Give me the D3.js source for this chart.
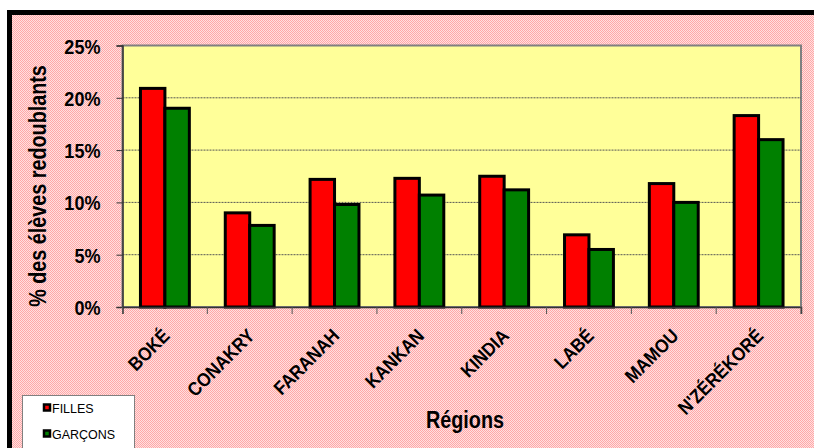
<!DOCTYPE html>
<html><head><meta charset="utf-8">
<script src="https://cdn.jsdelivr.net/npm/d3@7"></script>
<style>
html,body{margin:0;padding:0;background:#fff;overflow:hidden}
svg{display:block}
</style></head>
<body>
<svg id="chart" width="814" height="448"></svg>
<script>
const regions = ["BOKÉ","CONAKRY","FARANAH","KANKAN","KINDIA","LABÉ","MAMOU","N'ZÉRÉKORÉ"];
const filles  = [20.9, 9.0, 12.2, 12.3, 12.5, 6.9, 11.8, 18.3];
const garcons = [19.0, 7.8, 9.8, 10.7, 11.2, 5.5, 10.0, 16.0];
const seriesNames = ["FILLES","GARÇONS"];
const seriesColors = ["#ff0000","#008000"];
const yTicks = [0,5,10,15,20,25];

const FONT = "'Liberation Sans',Arial,sans-serif";
const NARROW = 0.86;
const svg = d3.select("#chart");

// pattern background
const defs = svg.append("defs");
const pat = defs.append("pattern").attr("id","pink").attr("width",2).attr("height",2).attr("patternUnits","userSpaceOnUse");
pat.append("rect").attr("width",2).attr("height",2).attr("fill","#ffe0e0");
pat.append("rect").attr("width",1).attr("height",1).attr("fill","#ffa8a8");
pat.append("rect").attr("x",1).attr("y",1).attr("width",1).attr("height",1).attr("fill","#ffa8a8");

svg.append("rect").attr("x",9.5).attr("y",12.5).attr("width",820).attr("height",450)
  .attr("fill","url(#pink)").attr("stroke","#000").attr("stroke-width",5);

const m = {left:122.5, right:801, top:45.5, bottom:307};
const x = d3.scaleBand().domain(regions).range([m.left, m.right]).paddingInner(0).paddingOuter(0);
const y = d3.scaleLinear().domain([0,25]).range([m.bottom, m.top]);

// plot area
svg.append("rect").attr("x",m.left).attr("y",m.top).attr("width",m.right-m.left).attr("height",m.bottom-m.top)
  .attr("fill","#ffff99").attr("stroke","#808080").attr("stroke-width",2);

// gridlines
svg.append("g").selectAll("line").data(yTicks.filter(t=>t>0 && t<25)).join("line")
  .attr("x1",m.left).attr("x2",m.right).attr("y1",d=>y(d)).attr("y2",d=>y(d))
  .attr("stroke","#555").attr("stroke-width",1).attr("stroke-dasharray","2,1");

// bars
const inner = d3.scaleBand().domain([0,1]).range([0, x.bandwidth()]).paddingInner(0).paddingOuter(0.735);
const data = regions.map((r,i)=>({r, vals:[filles[i], garcons[i]]}));
const groups = svg.append("g").selectAll("g").data(data).join("g")
  .attr("transform", d=>`translate(${x(d.r)},0)`);
groups.selectAll("rect").data(d=>d.vals.map((v,k)=>({v,k}))).join("rect")
  .attr("x", d=>inner(d.k)).attr("width", inner.bandwidth())
  .attr("y", d=>y(d.v)).attr("height", d=>y(0)-y(d.v))
  .attr("fill", d=>seriesColors[d.k]).attr("stroke","#000").attr("stroke-width",3);

// y axis
const yAxis = d3.axisLeft(y).tickValues(yTicks).tickFormat(d=>d+"%").tickSize(6).tickPadding(22);
const ga = svg.append("g").attr("transform",`translate(${m.left},0)`).call(yAxis);
ga.select(".domain").attr("stroke","#333").attr("stroke-width",1.5);
ga.selectAll(".tick line").attr("stroke","#333");
ga.selectAll("text").attr("font-family",FONT).attr("font-weight","bold").attr("font-size",21).attr("fill","#000")
  .attr("x",0).attr("dy","0.36em")
  .attr("transform",`translate(-22,0) scale(${NARROW},1)`);

// x axis
const xAxis = d3.axisBottom(x).tickSize(7).tickFormat("");
const gx = svg.append("g").attr("transform",`translate(0,${m.bottom})`).call(xAxis);
gx.select(".domain").attr("stroke","#333").attr("stroke-width",1.5);
gx.selectAll(".tick").attr("transform", d=>`translate(${x(d)},0)`);
gx.selectAll(".tick line").attr("stroke","#555");
gx.append("line").attr("x1",m.right).attr("x2",m.right).attr("y1",0).attr("y2",7).attr("stroke","#555");

// x labels
svg.append("g").selectAll("text").data(regions).join("text")
  .attr("transform", d=>`translate(${x(d)+x.bandwidth()/2+6},${m.bottom+30}) rotate(-45) scale(0.9,1)`)
  .attr("text-anchor","end").attr("font-family",FONT).attr("font-weight","bold").attr("font-size",19)
  .attr("fill","#000").text(d=>d);

// axis titles
svg.append("text").attr("transform",`translate(46,186) rotate(-90) scale(${NARROW},1)`).attr("text-anchor","middle")
  .attr("font-family",FONT).attr("font-weight","bold").attr("font-size",23).text("% des élèves redoublants");
svg.append("text").attr("transform",`translate(465,428) scale(${NARROW},1)`).attr("text-anchor","middle")
  .attr("font-family",FONT).attr("font-weight","bold").attr("font-size",23).text("Régions");

// legend
const lg = svg.append("g");
lg.append("rect").attr("x",22.5).attr("y",395.5).attr("width",112).attr("height",60).attr("fill","#fff").attr("stroke","#808080").attr("stroke-width",1);
const li = lg.selectAll("g").data(seriesNames).join("g").attr("transform",(d,i)=>`translate(44,${408+i*26})`);
li.append("rect").attr("x",0).attr("y",-3.5).attr("width",6).attr("height",6).attr("fill",(d,i)=>seriesColors[i]).attr("stroke","#000").attr("stroke-width",2.5);
li.append("text").attr("x",8).attr("y",4.5).attr("font-family",FONT).attr("font-size",12.5).attr("fill","#000").text(d=>d);
</script>
</body></html>
